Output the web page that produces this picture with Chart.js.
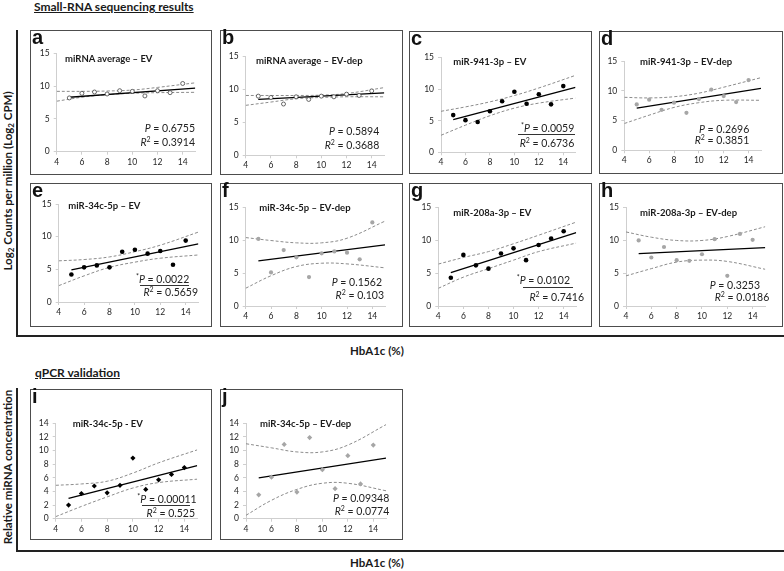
<!DOCTYPE html>
<html>
<head>
<meta charset="utf-8">
<script src="https://cdn.jsdelivr.net/npm/chart.js@4.4.1/dist/chart.umd.min.js"></script>
<style>
  body { margin: 0; background: #fff; font-family: Lato, "Open Sans", sans-serif; color: #222; }
  #page { position: relative; width: 784px; height: 571px; overflow: hidden; }
  .box { position: absolute; border: 1.5px solid #4d4d4d; box-sizing: border-box; }
  .letter { position: absolute; font: bold 20px "Liberation Sans", Arial, sans-serif; line-height: 20px; color: #111; }
  .ptitle { position: absolute; font-weight: bold; font-size: 9.5px; line-height: 12px; color: #1a1a1a; white-space: nowrap; }
  .stat { position: absolute; width: 120px; text-align: right; font-size: 10.5px; line-height: 12px; color: #222; white-space: nowrap; }
  .stat sup { font-size: 7px; line-height: 0; vertical-align: 4px; }
  .uline { position: absolute; height: 0; border-top: 1.2px solid #333; }
  .sect { position: absolute; font-weight: bold; font-size: 12px; text-decoration: underline; line-height: 14px; color: #1a1a1a; white-space: nowrap; }
  .axlab { position: absolute; font-weight: bold; font-size: 11.5px; line-height: 14px; color: #1a1a1a; white-space: nowrap; }
  .ylab { position: absolute; font-weight: bold; font-size: 11.5px; line-height: 14px; transform: translate(-50%, -50%) rotate(-90deg); white-space: nowrap; color: #1a1a1a; }
  .ylab sub { font-size: 8px; vertical-align: -2px; line-height: 0; }
  .bracket { position: absolute; border-left: 2px solid #222; border-bottom: 2px solid #222; box-sizing: border-box; }
  canvas { position: absolute; }
</style>
</head>
<body>
<div id="page"></div>
<script>
// HbA1c (%) values, one per subject
const hba1c = [5, 6, 7, 8, 9, 10, 11, 12, 13, 14];
// x positions of the fit line ends and the confidence band points
const fitX = [5, 15];
const bandX = [4, 6, 8, 10, 12, 15];
const xTicks = [4, 6, 8, 10, 12, 14];
const yTicksSeq = [0, 5, 10, 15];
const yTicksQpcr = [0, 2, 4, 6, 8, 10, 12, 14];

// a: miRNA average - EV
const aValues = [8.2, 8.9, 9.1, 8.8, 9.3, 9.2, 8.5, 9.3, 9.0, 10.4];
const aFit = [8.3, 9.7];
const aUpper = [9.2, 9.2, 9.25, 9.4, 9.8, 10.5];
const aLower = [7.7, 8.3, 8.7, 8.9, 9.0, 9.05];
// b: miRNA average - EV-dep
const bValues = [9.0, 8.8, 7.8, 8.9, 8.5, 9.0, 8.9, 9.3, 9.1, 9.8];
const bFit = [8.5, 9.5];
const bUpper = [9.1, 9.1, 9.1, 9.15, 9.4, 10.3];
const bLower = [7.6, 8.1, 8.6, 8.8, 8.9, 8.9];
// c: miR-941-3p - EV
const cValues = [5.9, 5.1, 4.8, 6.5, 8.1, 9.6, 7.7, 9.2, 7.6, 10.5];
const cFit = [5.2, 10.3];
const cUpper = [6.5, 7.2, 8.0, 9.0, 10.2, 12.2];
const cLower = [2.7, 4.3, 5.8, 7.0, 7.8, 8.6];
// d: miR-941-3p - EV-dep
const dValues = [7.7, 8.5, 6.8, 8.0, 6.3, 8.6, 10.2, 9.1, 8.1, 11.8];
const dFit = [7.1, 10.4];
const dUpper = [8.9, 8.8, 9.0, 9.6, 10.6, 12.2];
const dLower = [4.5, 5.9, 7.2, 8.0, 8.4, 8.4];
// e: miR-34c-5p - EV
const eValues = [4.2, 5.3, 5.6, 5.3, 7.7, 8.0, 7.4, 7.8, 5.7, 9.4];
const eFit = [4.9, 8.9];
const eUpper = [6.3, 6.5, 6.9, 7.7, 8.7, 10.7];
const eLower = [2.5, 4.0, 5.3, 6.1, 6.7, 7.2];
// f: miR-34c-5p - EV-dep
const fValues = [10.2, 5.1, 8.5, 7.4, 4.4, 8.0, 8.3, 8.1, 7.1, 12.7];
const fFit = [6.85, 9.3];
const fUpper = [10.4, 9.95, 9.6, 9.6, 10.3, 12.9];
const fLower = [2.7, 4.6, 6.0, 6.5, 6.4, 5.8];
// g: miR-208a-3p - EV
const gValues = [4.3, 7.8, 6.2, 5.7, 8.0, 8.8, 7.0, 9.3, 10.3, 11.4];
const gFit = [5.1, 11.2];
const gUpper = [6.4, 7.4, 8.3, 9.5, 10.8, 12.8];
const gLower = [2.7, 4.4, 5.7, 7.0, 8.3, 9.6];
// h: miR-208a-3p - EV-dep
const hValues = [10.0, 7.4, 9.0, 7.0, 6.9, 7.9, 10.2, 4.6, 11.0, 10.1];
const hFit = [8.0, 8.9];
const hUpper = [11.3, 10.5, 10.0, 10.0, 10.6, 12.1];
const hLower = [4.6, 5.7, 6.7, 7.0, 6.8, 5.6];
// i: qPCR miR-34c-5p - EV
const iValues = [2.0, 3.7, 4.8, 3.8, 4.9, 8.9, 4.3, 5.7, 6.5, 7.5];
const iFit = [3.0, 7.8];
const iUpper = [4.9, 5.1, 5.5, 6.7, 8.2, 10.1];
const iLower = [0.3, 1.8, 3.2, 4.5, 5.3, 5.8];
// j: qPCR miR-34c-5p - EV-dep
const jValues = [3.5, 6.1, 10.9, 3.9, 11.9, 7.2, 4.4, 9.25, 5.1, 10.8];
const jFit = [6.0, 8.9];
const jUpper = [11.0, 10.4, 9.8, 9.8, 10.8, 13.8];
const jLower = [0.5, 2.7, 4.3, 5.2, 5.2, 4.1];

const letters = ['a', 'b', 'c', 'd', 'e', 'f', 'g', 'h', 'i', 'j'];
const titles = ['miRNA average \u2013 EV', 'miRNA average \u2013 EV-dep', 'miR-941-3p \u2013 EV', 'miR-941-3p \u2013 EV-dep',
  'miR-34c-5p \u2013 EV', 'miR-34c-5p \u2013 EV-dep', 'miR-208a-3p \u2013 EV', 'miR-208a-3p \u2013 EV-dep',
  'miR-34c-5p - EV', 'miR-34c-5p \u2013 EV-dep'];
const pValues = ['0.6755', '0.5894', '0.0059', '0.2696', '0.0022', '0.1562', '0.0102', '0.3253', '0.00011', '0.09348'];
const r2Values = ['0.3914', '0.3688', '0.6736', '0.3851', '0.5659', '0.103', '0.7416', '0.0186', '0.525', '0.0774'];
const significant = [false, false, true, false, true, false, true, false, true, false];

const allValues = [aValues, bValues, cValues, dValues, eValues, fValues, gValues, hValues, iValues, jValues];
const allFits = [aFit, bFit, cFit, dFit, eFit, fFit, gFit, hFit, iFit, jFit];
const allUpper = [aUpper, bUpper, cUpper, dUpper, eUpper, fUpper, gUpper, hUpper, iUpper, jUpper];
const allLower = [aLower, bLower, cLower, dLower, eLower, fLower, gLower, hLower, iLower, jLower];

// --- layout (page pixels) ---
// box: x, y, w, h ; plot: left, top, right, bottom
const boxes = [
  [30, 30, 182, 145], [220, 30, 183, 145], [409, 31, 183, 143], [599, 31, 184, 143],
  [30, 183, 182, 144], [220, 183, 183, 144], [409, 183, 183, 144], [599, 183, 184, 144],
  [30, 389, 182, 151], [220, 389, 183, 151]
];
const plots = [
  [56.7, 53.3, 195.3, 151.7], [245.7, 56.7, 384.3, 155.3], [441, 57.7, 575.5, 152.3], [624.3, 61, 761, 150.3],
  [58.7, 204, 198.4, 302], [245.7, 207.3, 385, 306], [438.3, 207.7, 576.2, 306], [626, 207.7, 765.3, 306],
  [55.7, 423.3, 197.2, 518.7], [246, 423.3, 386, 518.7]
];
const titlePos = [[65, 59.3], [256, 61], [453.3, 61.7], [640, 61.7], [68.3, 206], [259.3, 207.7],
  [453.3, 212.7], [640, 212.7], [72.7, 424.3], [260, 424.3]];
const pPos = [[195, 128.3], [379.3, 130.7], [574.3, 128.3], [749.3, 129.3], [189.3, 278.7], [382, 282],
  [570, 280], [760, 285], [196.7, 499.3], [389.3, 498.3]];
const r2Pos = [[195, 141.7], [379.3, 145], [574.3, 142.7], [749.3, 140], [198, 292.3], [384, 295.3],
  [584, 296.7], [769.3, 296.7], [195, 513.3], [389.3, 510.7]];
const ulinePos = [null, null, [517.7, 575, 134], null, [140, 189.3, 285], null, [523.3, 572.7, 286.5], null, [141.7, 190, 505], null];

// marker styles per panel
const markerStyle = [
  { pointStyle: 'circle', radius: 2, bg: '#fff', border: '#444', bw: 0.8 },
  { pointStyle: 'circle', radius: 2, bg: '#fff', border: '#444', bw: 0.8 },
  { pointStyle: 'circle', radius: 2.3, bg: '#000', border: '#000', bw: 0 },
  { pointStyle: 'circle', radius: 2.1, bg: '#a6a6a6', border: '#a6a6a6', bw: 0 },
  { pointStyle: 'circle', radius: 2.3, bg: '#000', border: '#000', bw: 0 },
  { pointStyle: 'circle', radius: 2.1, bg: '#a6a6a6', border: '#a6a6a6', bw: 0 },
  { pointStyle: 'circle', radius: 2.3, bg: '#000', border: '#000', bw: 0 },
  { pointStyle: 'circle', radius: 2.1, bg: '#a6a6a6', border: '#a6a6a6', bw: 0 },
  { pointStyle: 'rectRot', radius: 2.6, bg: '#000', border: '#000', bw: 0 },
  { pointStyle: 'rectRot', radius: 2.6, bg: '#a6a6a6', border: '#a6a6a6', bw: 0 }
];

const page = document.getElementById('page');

function addEl(cls, html, css) {
  const d = document.createElement('div');
  d.className = cls;
  d.innerHTML = html;
  Object.assign(d.style, css);
  page.appendChild(d);
  return d;
}

// section headings, brackets and axis labels
addEl('sect', 'Small-RNA sequencing results', { left: '34px', top: '0px' });
addEl('sect', 'qPCR validation', { left: '35px', top: '366px' });
addEl('bracket', '', { left: '16px', top: '30px', width: '768px', height: '307px' });
addEl('bracket', '', { left: '16px', top: '388px', width: '768px', height: '164px' });
addEl('axlab', 'HbA1c (%)', { left: '350px', top: '344px' });
addEl('axlab', 'HbA1c (%)', { left: '350px', top: '556px' });
addEl('ylab', 'Log<sub>2</sub> Counts per million (Log<sub>2</sub> CPM)', { left: '8px', top: '181px' });
addEl('ylab', 'Relative miRNA concentration', { left: '8px', top: '467px' });

function pts(xs, ys) {
  return xs.map((x, i) => ({ x: x, y: ys[i] }));
}

function drawPanel(k) {
  const [bx, by, bw, bh] = boxes[k];
  const [pl, pt, pr, pb] = plots[k];
  const qpcr = k >= 8;
  const yTicks = qpcr ? yTicksQpcr : yTicksSeq;
  const ms = markerStyle[k];

  const cv = document.createElement('canvas');
  cv.width = bw; cv.height = bh;
  cv.style.left = bx + 'px'; cv.style.top = by + 'px';
  page.appendChild(cv);

  const band = data => ({
    data: pts(bandX, data), showLine: true, pointRadius: 0,
    borderColor: '#8c8c8c', borderWidth: 1, borderDash: [3, 2], tension: 0.4, fill: false
  });

  new Chart(cv, {
    type: 'scatter',
    data: {
      datasets: [
        {
          data: pts(hba1c, allValues[k]), pointStyle: ms.pointStyle, pointRadius: ms.radius,
          pointBackgroundColor: ms.bg, pointBorderColor: ms.border, pointBorderWidth: ms.bw
        },
        { data: pts(fitX, allFits[k]), showLine: true, pointRadius: 0, borderColor: '#000', borderWidth: 1.3 },
        band(allUpper[k]),
        band(allLower[k])
      ]
    },
    options: {
      responsive: false,
      animation: false,
      events: [],
      layout: { padding: { left: 0, top: pt - by, right: bx + bw - pr, bottom: 0 } },
      plugins: { legend: { display: false }, tooltip: { enabled: false } },
      scales: {
        x: {
          type: 'linear', min: 4, max: 15,
          afterBuildTicks: s => { s.ticks = xTicks.map(v => ({ value: v })); },
          afterFit: s => { s.height = by + bh - pb; },
          grid: { drawOnChartArea: false, drawTicks: true, tickLength: 3, color: '#cfcfcf' },
          border: { color: '#cfcfcf' },
          ticks: { font: { family: 'Lato', size: 8.5 }, color: '#262626', padding: 2, maxRotation: 0 }
        },
        y: {
          type: 'linear', min: 0, max: yTicks[yTicks.length - 1],
          afterBuildTicks: s => { s.ticks = yTicks.map(v => ({ value: v })); },
          afterFit: s => { s.width = pl - bx; },
          grid: { drawOnChartArea: false, drawTicks: true, tickLength: 3, color: '#cfcfcf' },
          border: { color: '#cfcfcf' },
          ticks: { font: { family: 'Lato', size: 8.5 }, color: '#262626', padding: 4 }
        }
      }
    }
  });

  addEl('box', '', { left: bx + 'px', top: by + 'px', width: bw + 'px', height: bh + 'px' });
  addEl('letter', letters[k], { left: (bx + 2) + 'px', top: (by - 3.5) + 'px' });
  addEl('ptitle', titles[k], { left: titlePos[k][0] + 'px', top: (titlePos[k][1] - 6) + 'px' });
  const star = significant[k] ? '<sup>*</sup>' : '';
  addEl('stat', star + '<i>P</i> = ' + pValues[k], { left: (pPos[k][0] - 120) + 'px', top: (pPos[k][1] - 6) + 'px' });
  addEl('stat', '<i>R</i><sup>2</sup> = ' + r2Values[k], { left: (r2Pos[k][0] - 120) + 'px', top: (r2Pos[k][1] - 6) + 'px' });
  if (ulinePos[k]) {
    const [x1, x2, y] = ulinePos[k];
    addEl('uline', '', { left: x1 + 'px', top: y + 'px', width: (x2 - x1) + 'px' });
  }
}

for (let k = 0; k < boxes.length; k++) drawPanel(k);
</script>
</body>
</html>
